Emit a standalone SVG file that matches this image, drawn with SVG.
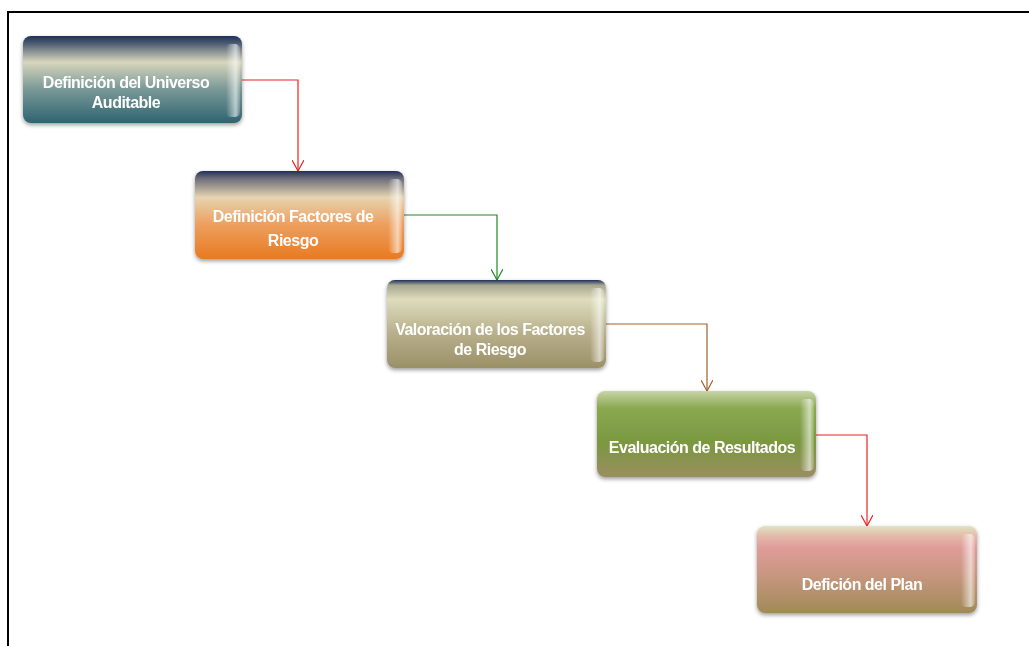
<svg xmlns="http://www.w3.org/2000/svg" width="1029" height="646" viewBox="0 0 1029 646">
<style>
.box{stroke:none}
.lbl{font-family:"Liberation Sans",Arial,sans-serif;font-weight:bold;font-size:16px;fill:#ffffff;text-anchor:middle;letter-spacing:-0.5px}
.con{fill:none;stroke-width:1.2}
.frame{stroke:#000;stroke-width:2;fill:none}
</style>
<defs>
<linearGradient id="g1" x1="0" y1="0" x2="0" y2="1">
<stop offset="0" stop-color="#1f2f5a"/><stop offset="0.08" stop-color="#4a5a70"/><stop offset="0.3" stop-color="#d8d6bc"/><stop offset="0.6" stop-color="#7c9a98"/><stop offset="1" stop-color="#2e6470"/>
</linearGradient>
<linearGradient id="g2" x1="0" y1="0" x2="0" y2="1">
<stop offset="0" stop-color="#1f2f5a"/><stop offset="0.08" stop-color="#6a6a78"/><stop offset="0.3" stop-color="#e6d4b0"/><stop offset="0.6" stop-color="#eda060"/><stop offset="1" stop-color="#e87a20"/>
</linearGradient>
<linearGradient id="g3" x1="0" y1="0" x2="0" y2="1">
<stop offset="0" stop-color="#1f2f5a"/><stop offset="0.06" stop-color="#a8a890"/><stop offset="0.22" stop-color="#dedcbc"/><stop offset="0.6" stop-color="#b8b08c"/><stop offset="1" stop-color="#9a9068"/>
</linearGradient>
<linearGradient id="g4" x1="0" y1="0" x2="0" y2="1">
<stop offset="0" stop-color="#c8d4a8"/><stop offset="0.2" stop-color="#8aa850"/><stop offset="0.6" stop-color="#7a9840"/><stop offset="1" stop-color="#9a8e60"/>
</linearGradient>
<linearGradient id="g5" x1="0" y1="0" x2="0" y2="1">
<stop offset="0" stop-color="#dfe4c4"/><stop offset="0.12" stop-color="#e4b8a8"/><stop offset="0.25" stop-color="#e09c9a"/><stop offset="0.6" stop-color="#c4967c"/><stop offset="1" stop-color="#a08a58"/>
</linearGradient>
<linearGradient id="hl" x1="0" y1="0" x2="1" y2="0">
<stop offset="0" stop-color="#ffffff" stop-opacity="0"/><stop offset="0.7" stop-color="#ffffff" stop-opacity="0.6"/><stop offset="1" stop-color="#ffffff" stop-opacity="0.15"/>
</linearGradient>
<filter id="sh" x="-10%" y="-10%" width="120%" height="130%">
<feGaussianBlur in="SourceAlpha" stdDeviation="2"/><feOffset dx="0" dy="2"/><feComponentTransfer><feFuncA type="linear" slope="0.4"/></feComponentTransfer><feMerge><feMergeNode/><feMergeNode in="SourceGraphic"/></feMerge>
</filter>
<marker id="ar" viewBox="0 0 12 12" refX="6" refY="11" markerWidth="12" markerHeight="12" markerUnits="userSpaceOnUse" orient="0"><path d="M0,0 L6,11 L12,0" fill="none" stroke="#ee2222" stroke-width="1.2"/></marker>
<marker id="ag" viewBox="0 0 12 12" refX="6" refY="11" markerWidth="12" markerHeight="12" markerUnits="userSpaceOnUse" orient="0"><path d="M0,0 L6,11 L12,0" fill="none" stroke="#228822" stroke-width="1.2"/></marker>
<marker id="ab" viewBox="0 0 12 12" refX="6" refY="11" markerWidth="12" markerHeight="12" markerUnits="userSpaceOnUse" orient="0"><path d="M0,0 L6,11 L12,0" fill="none" stroke="#a0622a" stroke-width="1.2"/></marker>
</defs>
<rect width="1029" height="646" fill="#ffffff"/>
<path class="frame" d="M8,646 V12 H1029"/>
<g id="connectors">
<path class="con" stroke="#ee2222" d="M242,80 H298 V171" marker-end="url(#ar)"/>
<path class="con" stroke="#228822" d="M404,215 H497 V280" marker-end="url(#ag)"/>
<path class="con" stroke="#a0622a" d="M606,324 H707 V391" marker-end="url(#ab)"/>
<path class="con" stroke="#ee2222" d="M816,435 H867 V526" marker-end="url(#ar)"/>
</g>
<g id="n1" filter="url(#sh)">
<rect class="box" x="23" y="36" width="219" height="87" rx="8" fill="url(#g1)"/>
<rect x="226" y="44" width="14" height="73" rx="5" fill="url(#hl)"/>
<text class="lbl" x="126" y="88">Definición del Universo</text>
<text class="lbl" x="126" y="108">Auditable</text>
</g>
<g id="n2" filter="url(#sh)">
<rect class="box" x="195" y="171" width="209" height="88" rx="8" fill="url(#g2)"/>
<rect x="388" y="179" width="14" height="74" rx="5" fill="url(#hl)"/>
<text class="lbl" x="293" y="222">Definición Factores de</text>
<text class="lbl" x="293" y="246">Riesgo</text>
</g>
<g id="n3" filter="url(#sh)">
<rect class="box" x="387" y="280" width="219" height="88" rx="8" fill="url(#g3)"/>
<rect x="590" y="288" width="14" height="74" rx="5" fill="url(#hl)"/>
<text class="lbl" x="490" y="335">Valoración de los Factores</text>
<text class="lbl" x="490" y="355">de Riesgo</text>
</g>
<g id="n4" filter="url(#sh)">
<rect class="box" x="597" y="391" width="219" height="86" rx="8" fill="url(#g4)"/>
<rect x="800" y="399" width="14" height="72" rx="5" fill="url(#hl)"/>
<text class="lbl" x="702" y="453">Evaluación de Resultados</text>
</g>
<g id="n5" filter="url(#sh)">
<rect class="box" x="757" y="526" width="220" height="87" rx="8" fill="url(#g5)"/>
<rect x="961" y="534" width="14" height="73" rx="5" fill="url(#hl)"/>
<text class="lbl" x="862" y="590">Defición del Plan</text>
</g>
</svg>
